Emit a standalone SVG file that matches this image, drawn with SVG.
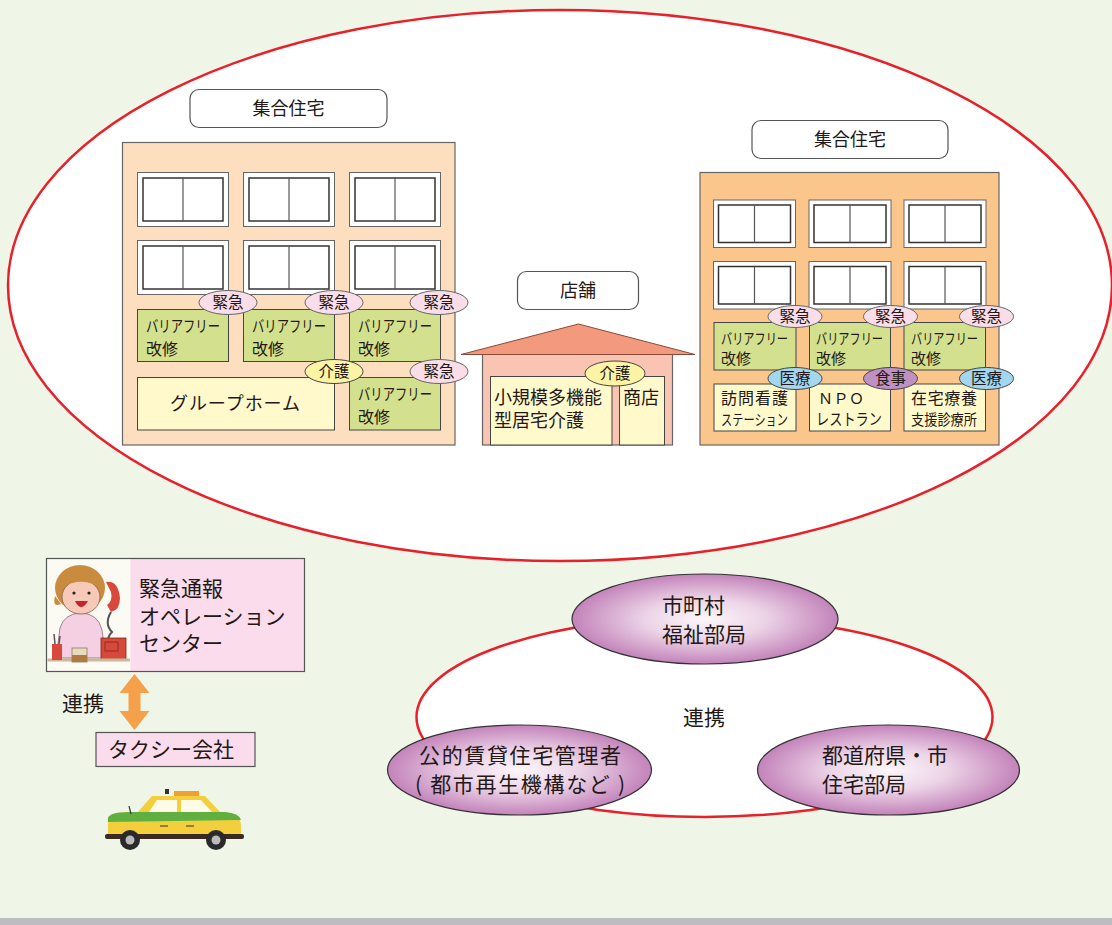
<svg xmlns="http://www.w3.org/2000/svg" width="1112" height="925" viewBox="0 0 1112 925">
  <defs>
    <style>
      text { font-family: "Noto Sans CJK JP", "Noto Sans", sans-serif; fill: #231815; }
      .label { fill: #ffffff; stroke: #555; stroke-width: 1.2; }
      .wo { fill: #ffffff; stroke: #666; stroke-width: 1; }
      .wi { fill: #ffffff; stroke: #333; stroke-width: 1.5; }
      .wd { stroke: #555; stroke-width: 1.2; }
      .green { fill: #d3e08e; stroke: #444; stroke-width: 1; }
      .cream { fill: #fff9cc; stroke: #444; stroke-width: 1; }
      .tag-kinkyu { fill: #f9dde9; stroke: #666; stroke-width: 1; }
      .tag-kaigo { fill: #fdf3a4; stroke: #444; stroke-width: 1; }
      .tag-iryo { fill: #a3d7ef; stroke: #444; stroke-width: 1; }
      .tag-shoku { fill: #bf91c3; stroke: #444; stroke-width: 1; }
      .pink { fill: #fadcec; stroke: #555; stroke-width: 1.2; }
      .org { fill: url(#orgGrad); stroke: #333; stroke-width: 1.2; }
      .t18 { font-size: 18px; }
      .t16 { font-size: 16px; }
      .t15 { font-size: 15px; }
      .t21 { font-size: 21px; }
      .tag { font-size: 15.5px; text-anchor: middle; }
      .mid { text-anchor: middle; }
    </style>
    <radialGradient id="orgGrad" cx="50%" cy="50%" r="50%">
      <stop offset="0%" stop-color="#fcf6fa"/>
      <stop offset="45%" stop-color="#ecd4e7"/>
      <stop offset="100%" stop-color="#c383ba"/>
    </radialGradient>
    <filter id="soft" x="-10%" y="-10%" width="120%" height="120%">
      <feGaussianBlur stdDeviation="0.7"/>
    </filter>
    <!-- two-pane window, origin at top-left of frame -->
    <g id="winL">
      <rect class="wo" x="0" y="0" width="91" height="54"/>
      <rect class="wi" x="5.5" y="5.5" width="80" height="43"/>
      <line class="wd" x1="45.5" y1="5.5" x2="45.5" y2="48.5"/>
    </g>
    <g id="winR">
      <rect class="wo" x="0" y="0" width="82" height="47.5"/>
      <rect class="wi" x="5" y="5" width="72" height="37.5"/>
      <line class="wd" x1="41" y1="5" x2="41" y2="42.5"/>
    </g>
  </defs>

  <!-- background -->
  <rect x="0" y="0" width="1112" height="925" fill="#eff6e7"/>
  <rect x="0" y="918" width="1112" height="7" fill="#bdbdc1"/>

  <!-- community area -->
  <ellipse id="community" cx="560" cy="285.5" rx="552" ry="275.5" fill="#ffffff" stroke="#e8202a" stroke-width="2.5"/>

  <!-- left apartment building -->
  <g id="apartment-left">
    <rect class="label" x="190" y="89.5" width="197" height="38" rx="9"/>
    <text class="t18 mid" x="288.5" y="115">集合住宅</text>
    <rect x="122.5" y="142.5" width="332.5" height="302.5" fill="#fddfbf" stroke="#666" stroke-width="1.2"/>
    <use href="#winL" x="137.5" y="172.5"/>
    <use href="#winL" x="243.5" y="172.5"/>
    <use href="#winL" x="349.5" y="172.5"/>
    <use href="#winL" x="137.5" y="240.5"/>
    <use href="#winL" x="243.5" y="240.5"/>
    <use href="#winL" x="349.5" y="240.5"/>

    <rect class="green" x="137.5" y="309.5" width="91" height="52"/>
    <rect class="green" x="243.5" y="309.5" width="91" height="52"/>
    <rect class="green" x="349.5" y="309.5" width="91" height="52"/>
    <rect class="green" x="349.5" y="377.5" width="91" height="52.5"/>
    <rect class="cream" x="137.5" y="377.5" width="197" height="52.5"/>

    <text class="t16" x="146" y="332" textLength="74" lengthAdjust="spacingAndGlyphs">バリアフリー</text>
    <text class="t16" x="146" y="355">改修</text>
    <text class="t16" x="252" y="332" textLength="74" lengthAdjust="spacingAndGlyphs">バリアフリー</text>
    <text class="t16" x="252" y="355">改修</text>
    <text class="t16" x="358" y="332" textLength="74" lengthAdjust="spacingAndGlyphs">バリアフリー</text>
    <text class="t16" x="358" y="355">改修</text>
    <text class="t16" x="358" y="400" textLength="74" lengthAdjust="spacingAndGlyphs">バリアフリー</text>
    <text class="t16" x="358" y="423">改修</text>
    <text class="t18" x="170" y="410" textLength="130" lengthAdjust="spacing">グループホーム</text>

    <ellipse class="tag-kinkyu" cx="228" cy="302.5" rx="29" ry="12"/>
    <text class="tag" x="228" y="307.5">緊急</text>
    <ellipse class="tag-kinkyu" cx="334" cy="302.5" rx="29" ry="12"/>
    <text class="tag" x="334" y="307.5">緊急</text>
    <ellipse class="tag-kinkyu" cx="439" cy="302.5" rx="29" ry="12"/>
    <text class="tag" x="439" y="307.5">緊急</text>
    <ellipse class="tag-kaigo" cx="334" cy="371.5" rx="29" ry="12"/>
    <text class="tag" x="334" y="376.5">介護</text>
    <ellipse class="tag-kinkyu" cx="439" cy="371.5" rx="29" ry="12"/>
    <text class="tag" x="439" y="376.5">緊急</text>
  </g>

  <!-- shop -->
  <g id="shop">
    <rect class="label" x="517.5" y="271.5" width="121" height="38" rx="9"/>
    <text class="t18 mid" x="578" y="297">店舗</text>
    <rect x="482.5" y="354" width="190" height="91" fill="#f9c5b2" stroke="#666" stroke-width="1.2"/>
    <polygon points="461,354.5 578.5,324 695,354.5" fill="#f39a7e" stroke="#8a4a3a" stroke-width="1"/>
    <rect class="cream" x="490.5" y="376.5" width="121.5" height="68.5"/>
    <rect class="cream" x="619.5" y="376.5" width="45" height="68.5"/>
    <text class="t18" x="494" y="404">小規模多機能</text>
    <text class="t18" x="494" y="427">型居宅介護</text>
    <text class="t18" x="623" y="404">商店</text>
    <ellipse class="tag-kaigo" cx="615" cy="373.5" rx="30" ry="12.5"/>
    <text class="tag" x="615" y="378.5">介護</text>
  </g>

  <!-- right apartment building -->
  <g id="apartment-right">
    <rect class="label" x="752" y="120.5" width="196" height="38" rx="9"/>
    <text class="t18 mid" x="850" y="146">集合住宅</text>
    <rect x="700" y="172.5" width="299" height="272.5" fill="#fbc68b" stroke="#666" stroke-width="1.2"/>
    <use href="#winR" x="713.5" y="200"/>
    <use href="#winR" x="809" y="200"/>
    <use href="#winR" x="904" y="200"/>
    <use href="#winR" x="713.5" y="261.5"/>
    <use href="#winR" x="809" y="261.5"/>
    <use href="#winR" x="904" y="261.5"/>

    <rect class="green" x="714" y="322.5" width="82" height="47.5"/>
    <rect class="green" x="809.5" y="322.5" width="81" height="47.5"/>
    <rect class="green" x="904" y="322.5" width="81.5" height="47.5"/>
    <rect class="cream" x="714" y="384" width="82" height="47"/>
    <rect class="cream" x="809.5" y="384" width="81" height="47"/>
    <rect class="cream" x="904" y="384" width="81.5" height="47"/>

    <text class="t15" x="721" y="344" textLength="67" lengthAdjust="spacingAndGlyphs">バリアフリー</text>
    <text class="t15" x="721" y="364">改修</text>
    <text class="t15" x="816" y="344" textLength="67" lengthAdjust="spacingAndGlyphs">バリアフリー</text>
    <text class="t15" x="816" y="364">改修</text>
    <text class="t15" x="911" y="344" textLength="67" lengthAdjust="spacingAndGlyphs">バリアフリー</text>
    <text class="t15" x="911" y="364">改修</text>

    <text class="t16" x="721" y="404" textLength="67" lengthAdjust="spacing">訪問看護</text>
    <text class="t15" x="721" y="425" textLength="67" lengthAdjust="spacingAndGlyphs">ステーション</text>
    <text class="t15" x="818" y="404" textLength="46" lengthAdjust="spacing">ＮＰＯ</text>
    <text class="t16" x="816" y="425" textLength="66" lengthAdjust="spacingAndGlyphs">レストラン</text>
    <text class="t16" x="911" y="404" textLength="66" lengthAdjust="spacing">在宅療養</text>
    <text class="t15" x="911" y="425" textLength="66" lengthAdjust="spacingAndGlyphs">支援診療所</text>

    <ellipse class="tag-kinkyu" cx="795" cy="316.5" rx="27" ry="11"/>
    <text class="tag" x="795" y="321.5">緊急</text>
    <ellipse class="tag-kinkyu" cx="890.5" cy="316.5" rx="27" ry="11"/>
    <text class="tag" x="890.5" y="321.5">緊急</text>
    <ellipse class="tag-kinkyu" cx="986.5" cy="316.5" rx="27" ry="11"/>
    <text class="tag" x="986.5" y="321.5">緊急</text>
    <ellipse class="tag-iryo" cx="795" cy="378.5" rx="27" ry="11"/>
    <text class="tag" x="795" y="383.5">医療</text>
    <ellipse class="tag-shoku" cx="890.5" cy="378.5" rx="27" ry="11"/>
    <text class="tag" x="890.5" y="383.5">食事</text>
    <ellipse class="tag-iryo" cx="986.5" cy="378.5" rx="27" ry="11"/>
    <text class="tag" x="986.5" y="383.5">医療</text>
  </g>

  <!-- emergency call centre -->
  <g id="call-center">
    <rect class="pink" x="46.5" y="558.5" width="258" height="113"/>
    <g filter="url(#soft)">
      <rect x="47.5" y="559.5" width="83" height="111" fill="#fbfbf4"/>
      <!-- operator -->
      <path d="M56,658 L60,628 Q64,614 80,613 Q98,613 102,630 L106,658 Z" fill="#f5cfe2" stroke="#8a6a7a" stroke-width="0.8"/>
      <ellipse cx="80" cy="588" rx="25" ry="23" fill="#c98b3e"/>
      <ellipse cx="81" cy="597" rx="19" ry="17" fill="#f7c9b8" stroke="#8a5a40" stroke-width="0.8"/>
      <path d="M57,590 Q63,570 82,570 Q101,571 104,590 Q90,580 77,582 Q65,584 57,590 Z" fill="#c98b3e"/>
      <path d="M55,596 Q52,608 61,604 Z" fill="#c98b3e"/>
      <circle cx="74" cy="593" r="1.6" fill="#222"/>
      <circle cx="89" cy="593" r="1.6" fill="#222"/>
      <path d="M75,601 Q81,613 88,601 Z" fill="#c8242c"/>
      <!-- telephone -->
      <path d="M106,582 Q118,580 120,598 Q120,610 111,612 L107,605 Q113,601 111,592 Z" fill="#d84a3a"/>
      <path d="M111,612 Q104,624 112,632 Q104,640 114,646" fill="none" stroke="#555" stroke-width="2"/>
      <rect x="101" y="638" width="25" height="22" fill="#d9493a" stroke="#7a2a20" stroke-width="0.8"/>
      <rect x="105" y="642" width="13" height="9" fill="none" stroke="#7a2a20" stroke-width="0.8"/>
      <!-- desk items -->
      <line x1="47.5" y1="660" x2="130" y2="660" stroke="#c9b89a" stroke-width="3"/>
      <rect x="52" y="644" width="10" height="16" fill="#d9493a"/>
      <line x1="55" y1="644" x2="54" y2="634" stroke="#555" stroke-width="1.5"/>
      <line x1="59" y1="644" x2="60" y2="636" stroke="#555" stroke-width="1.5"/>
      <rect x="72" y="648" width="15" height="14" fill="#e8dcc0" stroke="#8a7a5a" stroke-width="0.8"/>
      <rect x="72" y="655" width="15" height="7" fill="#b07a40"/>
    </g>
    <text class="t21" x="139" y="596">緊急通報</text>
    <text class="t21" x="139" y="624">オペレーション</text>
    <text class="t21" x="139" y="651">センター</text>
  </g>

  <!-- taxi company -->
  <g id="taxi-company">
    <rect class="pink" x="96" y="732.5" width="159" height="34"/>
    <text class="t21" x="108" y="757">タクシー会社</text>
    <g filter="url(#soft)">
      <rect x="174" y="791" width="25" height="5" fill="#f0a030"/>
      <rect x="165" y="789" width="4" height="5" fill="#333"/>
      <path d="M136,814 L152,796 L205,796 L222,814 Z" fill="#f3cf3c"/>
      <path d="M149,812 L157,800 L177,800 L177,812 Z" fill="#fffbe6"/>
      <path d="M181,812 L181,800 L201,800 L212,812 Z" fill="#fffbe6"/>
      <path d="M108,818 Q110,812 130,812 L225,812 Q241,814 241,826 L241,838 L108,838 Z" fill="#f3cf3c"/>
      <path d="M108,818 Q110,812 130,812 L225,812 Q239,813 241,820 L108,822 Z" fill="#5fb040"/>
      <line x1="129" y1="806" x2="131" y2="814" stroke="#333" stroke-width="1.2"/>
      <rect x="105" y="834" width="139" height="5" rx="2" fill="#3a2a22"/>
      <circle cx="130" cy="840" r="10" fill="#2a2a2a"/>
      <circle cx="130" cy="840" r="4.5" fill="#bbb"/>
      <circle cx="216" cy="840" r="10" fill="#2a2a2a"/>
      <circle cx="216" cy="840" r="4.5" fill="#bbb"/>
      <line x1="160" y1="826" x2="168" y2="826" stroke="#333" stroke-width="1"/>
      <line x1="186" y1="826" x2="194" y2="826" stroke="#333" stroke-width="1"/>
    </g>
  </g>

  <!-- connectors -->
  <g id="connectors">
    <path d="M134.5,674 L149.5,693 L140.5,693 L140.5,711 L149.5,711 L134.5,730 L119.5,711 L128.5,711 L128.5,693 L119.5,693 Z" fill="#f5a14b"/>
    <text class="t21" x="62" y="711">連携</text>
    <ellipse cx="704.5" cy="717" rx="288" ry="100" fill="#ffffff" stroke="#e8202a" stroke-width="2.5"/>
    <text class="t21 mid" x="704" y="725">連携</text>
  </g>

  <!-- partner organisations -->
  <g id="org-municipal-welfare">
    <ellipse class="org" cx="705" cy="619" rx="133" ry="45"/>
    <text class="t21" x="662" y="613">市町村</text>
    <text class="t21" x="662" y="642">福祉部局</text>
  </g>
  <g id="org-public-housing">
    <ellipse class="org" cx="519.5" cy="770" rx="132" ry="45"/>
    <text class="t21" x="419" y="763" textLength="202" lengthAdjust="spacing">公的賃貸住宅管理者</text>
    <text class="t21" x="415" y="792" textLength="210" lengthAdjust="spacing">( 都市再生機構など )</text>
  </g>
  <g id="org-prefecture-housing">
    <ellipse class="org" cx="888.5" cy="770" rx="131" ry="45"/>
    <text class="t21" x="822" y="763">都道府県・市</text>
    <text class="t21" x="822" y="792">住宅部局</text>
  </g>
</svg>
